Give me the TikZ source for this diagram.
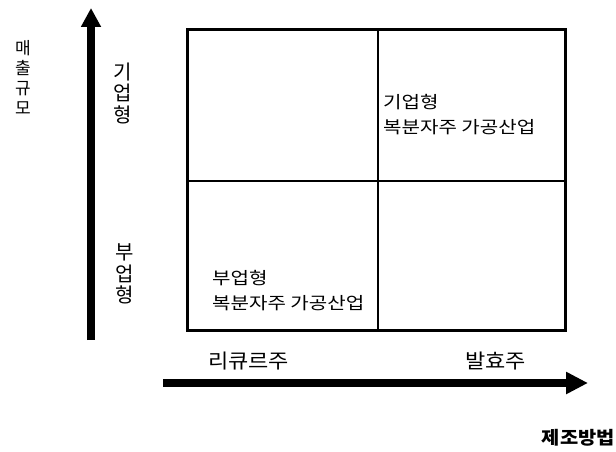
\documentclass[tikz,border=0pt]{standalone}
\usepackage{fontspec}
\setmainfont{Noto Sans CJK KR}
\usetikzlibrary{arrows.meta}
\begin{document}
\begin{tikzpicture}[x=1pt,y=-1pt,
  axis/.style={line width=8pt},
  frame/.style={line width=3pt},
  divider/.style={line width=1.5pt},
  hlab/.style={inner sep=0pt, font=\fontsize{17}{25}\selectfont, align=left},
  vlab/.style={inner sep=0pt, align=center},
]
\useasboundingbox (0,0) rectangle (616,452);
% quadrant box
\coordinate (boxnw) at (187,30);
\coordinate (boxse) at (565,330);
\draw[frame] (boxnw) rectangle (boxse);
\coordinate (mtop) at (378,30);
\coordinate (mbot) at (378,330);
\coordinate (mleft) at (187,181);
\coordinate (mright) at (565,181);
\draw[divider] (mtop) -- (mbot);
\draw[divider] (mleft) -- (mright);
% axes
\coordinate (ya0) at (91,340);
\coordinate (ya1) at (91,8);
\draw[axis,-{Triangle[length=19pt,width=19pt]}] (ya0) -- (ya1);
\coordinate (xa0) at (163,383);
\coordinate (xa1) at (588,383);
\draw[axis,-{Triangle[length=22pt,width=21pt]}] (xa0) -- (xa1);
% vertical labels
\node[vlab, font=\fontsize{17}{20}\selectfont] (yaxis) at (23,77) {매\\출\\규\\모};
\node[vlab, font=\fontsize{20}{21.5}\selectfont] (big) at (123,93) {기\\업\\형};
\node[vlab, font=\fontsize{20}{21.5}\selectfont] (small) at (125,274) {부\\업\\형};
% quadrant texts
\node[hlab, anchor=west] (ur) at (383,115) {\scalebox{1.18}[1]{기업형}\\\scalebox{1.18}[1]{복분자주 가공산업}};
\node[hlab, anchor=west] (ll) at (212,291) {\scalebox{1.18}[1]{부업형}\\\scalebox{1.18}[1]{복분자주 가공산업}};
% x labels
\node[inner sep=0pt, anchor=west, font=\fontsize{20}{22}\selectfont] (liq) at (208,361) {\scalebox{1.1}[1]{리큐르주}};
\node[inner sep=0pt, anchor=west, font=\fontsize{20}{22}\selectfont] (ferm) at (465,361) {\scalebox{1.1}[1]{발효주}};
\node[inner sep=0pt, anchor=east, font=\fontsize{18}{20}\selectfont\bfseries] (xaxis) at (615,438) {\scalebox{1.1}[1]{제조방법}};
\end{tikzpicture}
\end{document}
